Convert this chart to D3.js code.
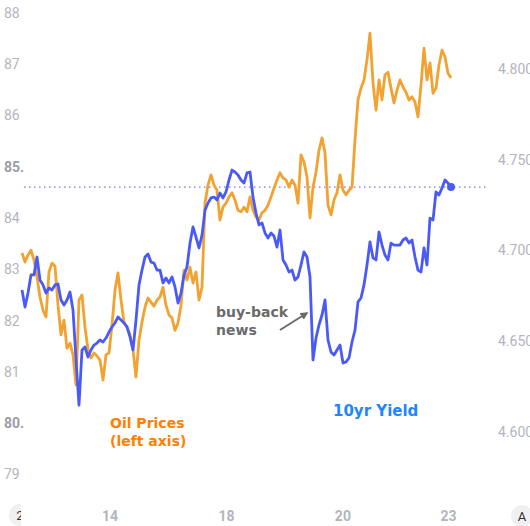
<!DOCTYPE html>
<html>
<head>
  <meta charset="utf-8">
  <title>oil vs 10yr yield</title>
  <script src="https://d3js.org/d3.v7.min.js"></script>
  <style>
    body { margin: 0; background: #fff; }
    .tick text { fill: #b2b5be; font-family: Roboto, "Liberation Sans", sans-serif; font-size: 14px; }
    .note { font-family: "DejaVu Sans", Verdana, sans-serif; font-weight: bold; font-size: 14px; }
  </style>
</head>
<body>
<div id="chart"></div>
<script>
// oil prices (left axis), sampled evenly across the window
var oil = [
  83.32, 83.14, 83.28, 83.37, 83.18, 82.85, 82.46, 82.20, 82.07, 82.95,
  83.12, 83.06, 82.30, 81.72, 82.01, 81.46, 81.56, 81.33, 80.74, 82.40,
  82.50, 81.87, 81.43, 81.27, 81.37, 81.31, 81.23, 80.84, 81.33, 81.37,
  81.91, 82.59, 82.93, 82.40, 81.97, 81.87, 81.72, 81.43, 80.90, 81.62,
  81.97, 82.26, 82.44, 82.36, 82.28, 82.40, 82.46, 82.65, 82.30, 82.11,
  82.05, 81.81, 81.95, 82.30, 82.98, 82.79, 83.04, 82.73, 82.95, 82.40,
  82.65, 84.29, 84.64, 84.84, 84.64, 84.54, 83.96, 84.21, 84.29, 84.41,
  84.49, 84.35, 84.15, 84.12, 84.21, 84.12, 84.41, 84.15, 84.02, 83.96,
  84.10, 84.15, 84.25, 84.41, 84.58, 84.74, 84.88, 84.78, 84.74, 84.60,
  84.74, 84.64, 84.29, 85.23, 85.09, 84.80, 84.00, 84.60, 84.89, 85.32,
  85.56, 85.27, 84.25, 84.06, 84.35, 84.49, 84.84, 84.54, 84.45, 84.54,
  84.60, 85.52, 86.30, 86.53, 86.69, 87.08, 87.60, 86.63, 86.10, 86.69,
  86.30, 86.79, 86.84, 86.53, 86.24, 86.49, 86.69, 86.55, 86.45, 86.30,
  86.36, 86.26, 85.97, 86.59, 87.31, 86.69, 87.02, 86.43, 86.53, 86.98,
  87.27, 87.14, 86.82, 86.73
];

// 10yr yield (right axis), same sampling
var yld = [
  4.6782, 4.6688, 4.6765, 4.6865, 4.6865, 4.6964, 4.6837, 4.6810, 4.6765, 4.6793,
  4.6782, 4.6810, 4.6815, 4.6727, 4.6699, 4.6727, 4.6771, 4.6672, 4.6396, 4.6147,
  4.6451, 4.6467, 4.6412, 4.6451, 4.6478, 4.6489, 4.6506, 4.6495, 4.6517, 4.6550,
  4.6578, 4.6600, 4.6633, 4.6616, 4.6600, 4.6578, 4.6523, 4.6451, 4.6616, 4.6810,
  4.6892, 4.6964, 4.6981, 4.6936, 4.6931, 4.6892, 4.6892, 4.6821, 4.6848, 4.6821,
  4.6854, 4.6799, 4.6710, 4.6765, 4.6865, 4.6909, 4.7041, 4.7130, 4.7074, 4.7014,
  4.7085, 4.7223, 4.7262, 4.7290, 4.7295, 4.7279, 4.7317, 4.7290, 4.7323, 4.7389,
  4.7444, 4.7433, 4.7417, 4.7389, 4.7372, 4.7428, 4.7433, 4.7295, 4.7207, 4.7141,
  4.7152, 4.7097, 4.7069, 4.7097, 4.7080, 4.7019, 4.7113, 4.6948, 4.6920, 4.6881,
  4.6892, 4.6837, 4.6854, 4.6920, 4.6992, 4.6964, 4.6854, 4.6396, 4.6517, 4.6589,
  4.6644, 4.6727, 4.6506, 4.6440, 4.6423, 4.6451, 4.6478, 4.6379, 4.6385, 4.6407,
  4.6495, 4.6561, 4.6716, 4.6738, 4.6810, 4.6920, 4.7047, 4.6959, 4.6948, 4.7102,
  4.7030, 4.6975, 4.6948, 4.7041, 4.7030, 4.7030, 4.7030, 4.7058, 4.7069, 4.7041,
  4.7058, 4.6964, 4.6892, 4.6881, 4.7014, 4.6920, 4.7179, 4.7168, 4.7323, 4.7306,
  4.7345, 4.7389, 4.7372, 4.7350
];

// axis ticks
var oilTicks = [79, 80, 81, 82, 83, 84, 85, 86, 87, 88];
var oilTickLabels = ["79", "80.", "81", "82", "83", "84", "85.", "86", "87", "88"];
var yldTicks = [4.60, 4.65, 4.70, 4.75, 4.80];
var yldTickLabels = ["4.600", "4.650", "4.700", "4.750", "4.800"];
var dayTicks = [29.2, 68, 106.8, 142];   // sample index of each day label
var dayLabels = ["14", "18", "20", "23"];

var W = 530, H = 526;

var svg = d3.select("#chart")
  .append("svg")
    .attr("width", W)
    .attr("height", H)
    .style("display", "block");

var x = d3.scaleLinear().domain([0, oil.length - 1]).range([22, 451]);
var yOil = d3.scaleLinear().domain([79, 88]).range([474.5, 12.7]);
var yYld = d3.scaleLinear().domain([4.60, 4.80]).range([431.7, 69.3]);

// left axis (labels sit inside the pane)
var leftAxis = svg.append("g")
  .call(d3.axisRight(yOil).tickValues(oilTicks).tickSize(0).tickPadding(4)
    .tickFormat(function(d, i) { return oilTickLabels[i]; }));
leftAxis.select(".domain").remove();
leftAxis.selectAll("text")
  .filter(function(d, i) { return oilTickLabels[i].slice(-1) == "."; })
  .style("font-weight", "bold")
  .style("fill", "#9a9da5");

// right axis, runs off the edge like the original
var rightAxis = svg.append("g")
  .attr("transform", "translate(498,0)")
  .call(d3.axisRight(yYld).tickValues(yldTicks).tickSize(0).tickPadding(0)
    .tickFormat(function(d, i) { return yldTickLabels[i]; }));
rightAxis.select(".domain").remove();

// bottom axis
var bottomAxis = svg.append("g")
  .attr("transform", "translate(0,505)")
  .call(d3.axisBottom(x).tickValues(dayTicks).tickSize(0).tickPadding(6)
    .tickFormat(function(d, i) { return dayLabels[i]; }));
bottomAxis.select(".domain").remove();
bottomAxis.selectAll("text").style("font-weight", "bold");

// little round buttons at the bottom corners
svg.append("clipPath").attr("id", "leftcut")
  .append("rect").attr("x", 0).attr("y", 490).attr("width", 21).attr("height", 36);
var lb = svg.append("g").attr("clip-path", "url(#leftcut)");
lb.append("circle").attr("cx", 20).attr("cy", 515).attr("r", 11).attr("fill", "#f0f0f3");
lb.append("text").attr("x", 20).attr("y", 520).attr("text-anchor", "middle")
  .style("font-family", "Roboto, sans-serif").style("font-size", "13px").attr("fill", "#333")
  .text("2");
svg.append("circle").attr("cx", 522).attr("cy", 516).attr("r", 11).attr("fill", "#f0f0f3");
svg.append("text").attr("x", 522).attr("y", 521).attr("text-anchor", "middle")
  .style("font-family", "Roboto, sans-serif").style("font-size", "13px").attr("fill", "#333")
  .text("A");

// last value line for the yield
var last = yld[yld.length - 1];
svg.append("line")
  .attr("x1", 24).attr("x2", 486)
  .attr("y1", yYld(last)).attr("y2", yYld(last))
  .attr("stroke", "#4455ff")
  .attr("stroke-width", 1)
  .attr("stroke-dasharray", "1.5,3.5");

// lines
var oilLine = d3.line()
  .x(function(d, i) { return x(i); })
  .y(function(d) { return yOil(d); });
var yldLine = d3.line()
  .x(function(d, i) { return x(i); })
  .y(function(d) { return yYld(d); });

svg.append("path")
  .datum(oil)
  .attr("d", oilLine)
  .attr("fill", "none")
  .attr("stroke", "#f2a230")
  .attr("stroke-width", 2.8)
  .attr("stroke-linejoin", "round");

svg.append("path")
  .datum(yld)
  .attr("d", yldLine)
  .attr("fill", "none")
  .attr("stroke", "#4a5af8")
  .attr("stroke-width", 2.8)
  .attr("stroke-linejoin", "round");

svg.append("circle")
  .attr("cx", x(yld.length - 1))
  .attr("cy", yYld(last))
  .attr("r", 4)
  .attr("fill", "#4a5af8");

// annotations
svg.append("text").attr("class", "note").attr("x", 110).attr("y", 428)
  .attr("fill", "#ff8000").text("Oil Prices");
svg.append("text").attr("class", "note").attr("x", 110).attr("y", 446)
  .attr("fill", "#ff8000").text("(left axis)");

svg.append("text").attr("class", "note").attr("x", 333).attr("y", 416)
  .style("font-size", "15px")
  .attr("fill", "#1e86ff").text("10yr Yield");

svg.append("text").attr("class", "note").attr("x", 216).attr("y", 317)
  .attr("fill", "#6b6b6b").text("buy-back");
svg.append("text").attr("class", "note").attr("x", 216).attr("y", 335)
  .attr("fill", "#6b6b6b").text("news");

svg.append("defs").append("marker")
  .attr("id", "head")
  .attr("viewBox", "0 0 10 10")
  .attr("refX", 8).attr("refY", 5)
  .attr("markerWidth", 4).attr("markerHeight", 4)
  .attr("orient", "auto")
  .append("path").attr("d", "M0,0 L10,5 L0,10 z").attr("fill", "#6b6b6b");

svg.append("line")
  .attr("x1", 280).attr("y1", 330)
  .attr("x2", 307).attr("y2", 313)
  .attr("stroke", "#6b6b6b")
  .attr("stroke-width", 2)
  .attr("marker-end", "url(#head)");
</script>
</body>
</html>
